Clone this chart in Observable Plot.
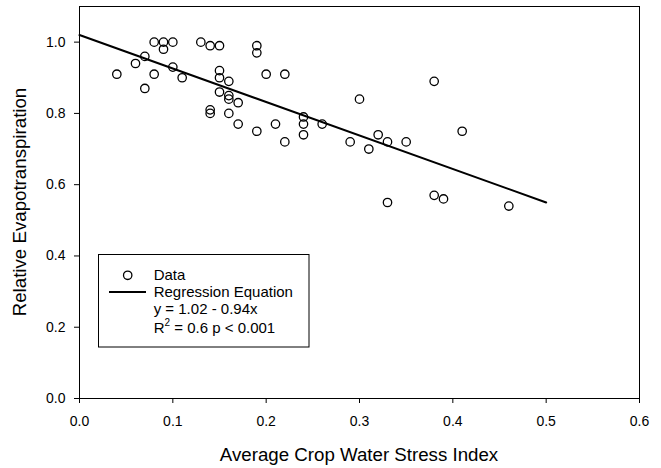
<!DOCTYPE html>
<html>
<head>
<meta charset="utf-8">
<script src="https://cdn.jsdelivr.net/npm/d3@7"></script>
<script src="https://cdn.jsdelivr.net/npm/@observablehq/plot@0.6"></script>
<style>
  html, body { margin: 0; padding: 0; background: #fff; }
  #chart { position: relative; width: 661px; height: 468px; }
  svg { font-family: "Liberation Sans", Arial, sans-serif; }
</style>
</head>
<body>
<div id="chart"></div>
<script>
// Data: Average CWSI vs Relative ET
const cwsi = [0.04,0.06,0.07,0.07,0.08,0.08,0.09,0.09,0.10,0.10,0.11,0.13,0.14,0.15,0.15,0.15,0.15,0.14,0.14,0.16,0.16,0.16,0.16,0.17,0.17,0.19,0.19,0.19,0.20,0.21,0.22,0.22,0.24,0.24,0.24,0.26,
              0.29,0.30,0.31,0.32,0.33,0.33,0.35,0.38,0.38,0.39,0.41,0.46];
const relET = [0.91,0.94,0.96,0.87,1.00,0.91,1.00,0.98,1.00,0.93,0.90,1.00,0.99,0.99,0.92,0.90,0.86,0.81,0.80,0.89,0.85,0.84,0.80,0.83,0.77,0.99,0.97,0.75,0.91,0.77,0.91,0.72,0.79,0.77,0.74,0.77,
               0.72,0.84,0.70,0.74,0.72,0.55,0.72,0.89,0.57,0.56,0.75,0.54];
// Regression line endpoints (y = 1.02 - 0.94x over 0..0.5)
const lineX = [0, 0.5];
const lineY = [1.02, 0.55];
const xTicks = [0, 0.1, 0.2, 0.3, 0.4, 0.5, 0.6];
const yTicks = [0, 0.2, 0.4, 0.6, 0.8, 1.0];
const legendLabels = ["Data", "Regression Equation", "y = 1.02 - 0.94x"];

const points = cwsi.map((x, i) => ({x, y: relET[i]}));
const line = lineX.map((x, i) => ({x, y: lineY[i]}));

const chart = Plot.plot({
  width: 661,
  height: 468,
  marginLeft: 79,
  marginRight: 22,
  marginTop: 6,
  marginBottom: 70,
  style: {fontFamily: "Liberation Sans, Arial, sans-serif", fontSize: "14px", color: "#000", background: "#fff"},
  x: {domain: [0, 0.6], ticks: xTicks, tickFormat: d3.format(".1f"), tickSize: 5, tickPadding: 13, label: null},
  y: {domain: [0, 1.1], ticks: yTicks, tickFormat: d3.format(".1f"), tickSize: 5, tickPadding: 9, label: null},
  marks: [
    Plot.frame({stroke: "#000", strokeWidth: 1}),
    Plot.line(line, {x: "x", y: "y", stroke: "#000", strokeWidth: 2}),
    Plot.dot(points, {x: "x", y: "y", r: 4.2, stroke: "#000", strokeWidth: 1.3, fill: "none"})
  ]
});
document.getElementById("chart").appendChild(chart);

const svg = d3.select(chart);
// Axis titles
svg.append("text")
  .attr("x", 359).attr("y", 461)
  .attr("text-anchor", "middle")
  .attr("font-size", 18.7)
  .attr("fill", "#000")
  .text("Average Crop Water Stress Index");
svg.append("text")
  .attr("transform", "translate(26,202) rotate(-90)")
  .attr("text-anchor", "middle")
  .attr("font-size", 18.7)
  .attr("fill", "#000")
  .text("Relative Evapotranspiration");

// Legend
const lg = svg.append("g").attr("font-size", 15).attr("fill", "#000").attr("text-anchor", "start");
lg.append("rect").attr("x", 98.5).attr("y", 254.5).attr("width", 210.5).attr("height", 92.5)
  .attr("fill", "#fff").attr("stroke", "#000").attr("stroke-width", 1);
lg.append("circle").attr("cx", 127.7).attr("cy", 275.3).attr("r", 4.2)
  .attr("fill", "none").attr("stroke", "#000").attr("stroke-width", 1.3);
lg.append("line").attr("x1", 109).attr("x2", 146).attr("y1", 292).attr("y2", 292)
  .attr("stroke", "#000").attr("stroke-width", 2);
const baselines = [279.7, 296.7, 314];
legendLabels.forEach((t, i) => {
  lg.append("text").attr("x", 153.7).attr("y", baselines[i]).attr("text-anchor", "start").text(t);
});
const r2 = lg.append("text").attr("x", 153.7).attr("y", 333).attr("text-anchor", "start");
r2.append("tspan").text("R");
r2.append("tspan").attr("font-size", 10).attr("dy", -7).text("2");
r2.append("tspan").attr("dy", 7).text(" = 0.6 p < 0.001");
</script>
</body>
</html>
